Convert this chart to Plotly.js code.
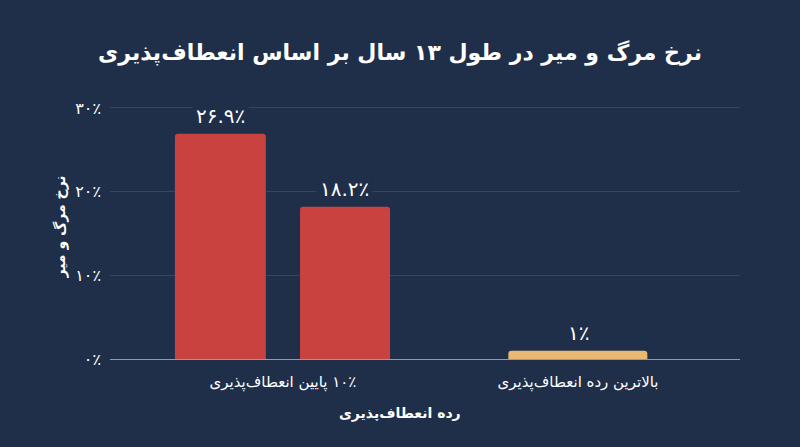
<!DOCTYPE html>
<html>
<head>
<meta charset="utf-8">
<script src="https://cdn.plot.ly/plotly-3.0.1.min.js"></script>
<style>
html, body { margin: 0; padding: 0; background: #1f2f4a; }
#chart { width: 800px; height: 447px; }
</style>
</head>
<body>
<div id="chart"></div>
<script>
const categories = ['\u200f۱۰٪ پایین انعطاف‌پذیری', 'بالاترین رده انعطاف‌پذیری'];
const barCategories = [categories[0], categories[0], categories[1]];
const values = [26.9, 18.2, 1];
const valueLabels = ['۲۶.۹٪', '۱۸.۲٪', '۱٪'];
const barColors = ['#c8423f', '#c8423f', '#e8b874'];
const barOffsets = [-0.366, 0.058, -0.236];
const barWidths = [0.308, 0.305, 0.471];
const labelShifts = [-62, 62, 0];
const tickValues = [0, 10, 20, 30];
const tickLabels = ['۰٪', '۱۰٪', '۲۰٪', '۳۰٪'];

const fontFamily = '"DejaVu Sans", "Noto Sans", sans-serif';
const bg = '#1f2f4a';

const traces = [{
    type: 'bar',
    x: barCategories,
    y: values,
    offset: barOffsets,
    width: barWidths,
    marker: { color: barColors, cornerradius: 3 },
    hoverinfo: 'skip'
}];

const valueAnnotations = values.map((v, i) => ({
    x: barCategories[i],
    y: v,
    yanchor: 'bottom',
    xshift: labelShifts[i],
    yshift: 2,
    text: valueLabels[i],
    showarrow: false,
    bgcolor: bg,
    borderpad: 3,
    font: { family: fontFamily, size: 20, color: '#ffffff' }
}));

// both axis titles sit off the plot centre, so they go in as paper annotations
const xTitle = {
    xref: 'paper', yref: 'paper',
    x: 0.46, y: -0.213,
    yanchor: 'middle',
    text: 'رده انعطاف‌پذیری',
    showarrow: false,
    font: { family: fontFamily, size: 14, color: '#ffffff', weight: 700 }
};
const yTitle = {
    xref: 'paper', yref: 'paper',
    x: -0.095, y: 0.52,
    textangle: -90,
    text: 'نرخ مرگ و میر',
    showarrow: false,
    font: { family: fontFamily, size: 14, color: '#ffffff', weight: 700 }
};

const layout = {
    width: 800,
    height: 447,
    paper_bgcolor: bg,
    plot_bgcolor: bg,
    showlegend: false,
    margin: { l: 110, r: 60, t: 105, b: 88 },
    title: {
        text: 'نرخ مرگ و میر در طول ۱۳ سال بر اساس انعطاف‌پذیری',
        font: { family: fontFamily, size: 22, color: '#ffffff', weight: 700 },
        x: 0.5, xanchor: 'center', y: 0.882, yanchor: 'middle'
    },
    xaxis: {
        type: 'category',
        categoryorder: 'array',
        categoryarray: categories,
        range: [-0.586, 1.549],
        showgrid: false,
        showline: true,
        linecolor: '#8c9cb8',
        linewidth: 1,
        ticks: '',
        ticklabelstandoff: 9,
        tickfont: { family: fontFamily, size: 15, color: '#ffffff' }
    },
    yaxis: {
        range: [0, 30.35],
        tickvals: tickValues,
        ticktext: tickLabels,
        gridcolor: '#35465f',
        gridwidth: 1,
        zeroline: false,
        ticks: '',
        ticklabelstandoff: 8,
        tickfont: { family: fontFamily, size: 16, color: '#ffffff' }
    },
    annotations: valueAnnotations.concat([xTitle, yTitle])
};

Plotly.newPlot('chart', traces, layout, { displayModeBar: false, responsive: false });
</script>
</body>
</html>
